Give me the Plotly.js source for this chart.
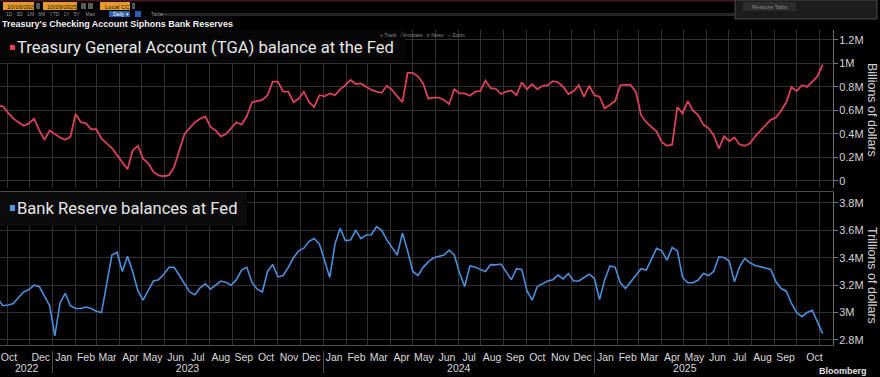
<!DOCTYPE html>
<html><head><meta charset="utf-8">
<script src="https://cdn.plot.ly/plotly-3.0.1.min.js"></script>
<style>html,body{margin:0;padding:0;background:#000;overflow:hidden}#chart{width:880px;height:377px}</style>
</head><body><div id="chart"></div>
<script>
// ---- data (weekly, Wednesday levels) ----
const weekDates = [
'2022-10-19','2022-10-26','2022-11-02','2022-11-09','2022-11-16','2022-11-23','2022-11-30','2022-12-07','2022-12-14','2022-12-21','2022-12-28',
'2023-01-04','2023-01-11','2023-01-18','2023-01-25','2023-02-01','2023-02-08','2023-02-15','2023-02-22','2023-03-01','2023-03-08','2023-03-15','2023-03-22','2023-03-29',
'2023-04-05','2023-04-12','2023-04-19','2023-04-26','2023-05-03','2023-05-10','2023-05-17','2023-05-24','2023-05-31','2023-06-07','2023-06-14','2023-06-21','2023-06-28',
'2023-07-05','2023-07-12','2023-07-19','2023-07-26','2023-08-02','2023-08-09','2023-08-16','2023-08-23','2023-08-30','2023-09-06','2023-09-13','2023-09-20','2023-09-27',
'2023-10-04','2023-10-11','2023-10-18','2023-10-25','2023-11-01','2023-11-08','2023-11-15','2023-11-22','2023-11-29','2023-12-06','2023-12-13','2023-12-20','2023-12-27',
'2024-01-03','2024-01-10','2024-01-17','2024-01-24','2024-01-31','2024-02-07','2024-02-14','2024-02-21','2024-02-28','2024-03-06','2024-03-13','2024-03-20','2024-03-27',
'2024-04-03','2024-04-10','2024-04-17','2024-04-24','2024-05-01','2024-05-08','2024-05-15','2024-05-22','2024-05-29','2024-06-05','2024-06-12','2024-06-19','2024-06-26',
'2024-07-03','2024-07-10','2024-07-17','2024-07-24','2024-07-31','2024-08-07','2024-08-14','2024-08-21','2024-08-28','2024-09-04','2024-09-11','2024-09-18','2024-09-25',
'2024-10-02','2024-10-09','2024-10-16','2024-10-23','2024-10-30','2024-11-06','2024-11-13','2024-11-20','2024-11-27','2024-12-04','2024-12-11','2024-12-18','2024-12-25',
'2025-01-01','2025-01-08','2025-01-15','2025-01-22','2025-01-29','2025-02-05','2025-02-12','2025-02-19','2025-02-26','2025-03-05','2025-03-12','2025-03-19','2025-03-26',
'2025-04-02','2025-04-09','2025-04-16','2025-04-23','2025-04-30','2025-05-07','2025-05-14','2025-05-21','2025-05-28','2025-06-04','2025-06-11','2025-06-18','2025-06-25',
'2025-07-02','2025-07-09','2025-07-16','2025-07-23','2025-07-30','2025-08-06','2025-08-13','2025-08-20','2025-08-27','2025-09-03','2025-09-10','2025-09-17','2025-09-24',
'2025-10-01','2025-10-08','2025-10-15','2025-10-22','2025-10-29','2025-11-05'
];
// Treasury General Account balance (axis shows "M")
const tgaBalance = [
0.64,0.635,0.58,0.53,0.50,0.47,0.49,0.53,0.43,0.35,0.43,
0.40,0.37,0.35,0.375,0.57,0.50,0.49,0.44,0.44,0.36,0.32,0.28,0.22,
0.16,0.10,0.26,0.30,0.19,0.15,0.077,0.048,0.04,0.05,0.12,0.26,0.40,
0.45,0.50,0.53,0.55,0.46,0.43,0.38,0.40,0.45,0.50,0.48,0.55,0.67,
0.68,0.69,0.73,0.845,0.845,0.76,0.76,0.67,0.70,0.76,0.67,0.63,0.73,
0.72,0.745,0.73,0.78,0.815,0.86,0.825,0.83,0.80,0.775,0.76,0.75,0.81,
0.775,0.72,0.67,0.92,0.92,0.89,0.83,0.70,0.71,0.71,0.69,0.655,0.78,
0.745,0.745,0.725,0.76,0.765,0.855,0.79,0.785,0.74,0.76,0.77,0.73,0.84,
0.78,0.825,0.78,0.81,0.815,0.85,0.84,0.80,0.74,0.765,0.815,0.717,0.81,
0.73,0.717,0.617,0.645,0.68,0.815,0.82,0.815,0.76,0.56,0.50,0.46,0.42,
0.33,0.30,0.31,0.63,0.575,0.68,0.60,0.56,0.48,0.45,0.39,0.276,0.38,
0.34,0.37,0.31,0.30,0.32,0.38,0.43,0.475,0.52,0.54,0.60,0.67,0.80,
0.765,0.815,0.80,0.845,0.89,0.99
];
// Bank reserve balances at the Fed
const reserveBalance = [
3.10,3.05,3.055,3.066,3.11,3.15,3.168,3.20,3.19,3.12,3.05,
2.83,3.07,3.14,3.05,3.03,3.03,3.04,3.03,3.01,3.00,3.21,3.42,3.44,
3.30,3.41,3.30,3.16,3.09,3.16,3.23,3.24,3.28,3.33,3.33,3.27,3.21,
3.15,3.13,3.18,3.21,3.17,3.20,3.23,3.22,3.20,3.24,3.31,3.33,3.22,
3.17,3.15,3.30,3.35,3.26,3.27,3.33,3.40,3.45,3.47,3.52,3.54,3.50,
3.38,3.256,3.50,3.615,3.525,3.53,3.60,3.54,3.566,3.568,3.627,3.60,3.53,
3.47,3.42,3.58,3.45,3.30,3.27,3.33,3.37,3.40,3.41,3.42,3.456,3.42,
3.29,3.19,3.34,3.333,3.315,3.30,3.35,3.348,3.354,3.30,3.24,3.32,3.315,
3.16,3.09,3.19,3.21,3.23,3.24,3.273,3.246,3.285,3.23,3.23,3.256,3.28,
3.25,3.095,3.24,3.34,3.33,3.217,3.175,3.224,3.266,3.32,3.31,3.395,3.468,
3.45,3.383,3.475,3.45,3.256,3.217,3.217,3.237,3.285,3.27,3.30,3.407,3.402,
3.376,3.224,3.334,3.395,3.363,3.344,3.334,3.32,3.315,3.224,3.175,3.156,3.066,
3.00,2.97,3.00,3.017,2.932,2.846
];
const seriesNames = ['Treasury General Account (TGA) balance at the Fed','Bank Reserve balances at Fed'];
const axisTitles = ['Billions of dollars','Trillions of dollars'];
const chartTitle = "Treasury's Checking Account Siphons Bank Reserves";

// axis labels
const monthTickDates = ['2022-11-03','2022-12-16',
'2023-01-16','2023-02-15','2023-03-16','2023-04-16','2023-05-16','2023-06-16','2023-07-16','2023-08-16','2023-09-16','2023-10-16','2023-11-16','2023-12-16',
'2024-01-16','2024-02-15','2024-03-16','2024-04-16','2024-05-16','2024-06-16','2024-07-16','2024-08-16','2024-09-16','2024-10-16','2024-11-16','2024-12-16',
'2025-01-16','2025-02-15','2025-03-16','2025-04-16','2025-05-16','2025-06-16','2025-07-16','2025-08-16','2025-09-16','2025-10-25'];
const monthLabels = ['Oct','Dec',
'Jan','Feb','Mar','Apr','May','Jun','Jul','Aug','Sep','Oct','Nov','Dec',
'Jan','Feb','Mar','Apr','May','Jun','Jul','Aug','Sep','Oct','Nov','Dec',
'Jan','Feb','Mar','Apr','May','Jun','Jul','Aug','Sep','Oct'];
const yearTickDates = ['2022-11-27','2023-07-02','2024-07-02','2025-05-03'];
const yearLabels = ['2022','2023','2024','2025'];
const tgaTickVals = [0,0.2,0.4,0.6,0.8,1,1.2];
const tgaTickText = ['0','0.2M','0.4M','0.6M','0.8M','1M','1.2M'];
const resTickVals = [2.8,3,3.2,3.4,3.6,3.8];
const resTickText = ['2.8M','3M','3.2M','3.4M','3.6M','3.8M'];
const xRange = ['2022-10-22','2025-11-19'];

// ---- layout helpers (pixel -> paper) ----
const W = 833, H = 377;
const px = v => v / W, py = v => (H - v) / H;
const gridCol = '#313131';
const narrow = 'Liberation Sans Narrow, Liberation Sans, Arial, sans-serif';
const tickFont = {family: narrow, size: 11, color: '#d2d2d2'};
const dateFont = {family: narrow, size: 10.5, color: '#d8d8d8'};
const RED = '#d9415a', BLUE = '#4a8fdc';

const traces = [
  {x: weekDates, y: tgaBalance, name: seriesNames[0], type: 'scatter', mode: 'lines',
   line: {color: RED, width: 1.8}, xaxis: 'x', yaxis: 'y', hoverinfo: 'skip'},
  {x: weekDates, y: reserveBalance, name: seriesNames[1], type: 'scatter', mode: 'lines',
   line: {color: BLUE, width: 1.6}, xaxis: 'x', yaxis: 'y2', hoverinfo: 'skip'},
  // empty trace so the year axis (x2) gets drawn
  {x: [], y: [], type: 'scatter', mode: 'lines', xaxis: 'x2', yaxis: 'y2', hoverinfo: 'skip', showlegend: false}
];

function rect(x0, y0, x1, y1, fill, lineCol) {
  return {type: 'rect', xref: 'paper', yref: 'paper', x0: px(x0), x1: px(x1), y0: py(y1), y1: py(y0),
    fillcolor: fill, line: {width: lineCol ? 1 : 0, color: lineCol || fill}, layer: 'above'};
}
function note(x, y, text, size, color, opts) {
  return Object.assign({xref: 'paper', yref: 'paper', x: px(x), y: py(y), text: text, showarrow: false,
    xanchor: 'left', yanchor: 'middle', font: {family: 'Liberation Sans, Arial, sans-serif', size: size, color: color}}, opts || {});
}

const shapes = [
  rect(0, 0, 735, 1.5, '#4a1520'),
  rect(160, 13, 735, 16, '#262626'),
  rect(3, 2, 34, 10, '#e39a2f'), rect(36, 3, 40, 9, '#5a5a5a'),
  rect(43, 2, 77, 10, '#e39a2f'), rect(81, 3, 86, 9, '#5a5a5a'), rect(88, 3, 93, 9, '#5a5a5a'),
  rect(100, 2, 130, 10, '#e39a2f'), rect(132, 3, 135, 9, '#5a5a5a'),
  rect(109, 11, 130, 17, '#2b5db0'), rect(135, 11, 141, 17, '#2b5db0'),
  rect(735, 0, 877, 19, '#1c1c1c', '#4a4a4a'), rect(743, 2, 796, 11, '#2c2c2c'),
  // legend boxes
  rect(0, 30, 405, 63, '#060606'),
  rect(0, 192, 247, 226, '#0b0b0b'),
  rect(10, 45, 15, 50, '#ee3a55'),
  rect(10, 205, 15, 211, '#4a9be8')
];

const legendFont = {family: 'Roboto, sans-serif', size: 16.6, color: '#e6e6e6'};
const annotations = [
  note(5, 6.5, '10/16/2022', 6, '#2a1a00'),
  note(45, 6.5, '10/29/2025', 6, '#2a1a00'),
  note(103, 6.5, 'Local CCY', 6, '#2a1a00'),
  note(4, 14, '1D&nbsp;&nbsp;&nbsp;3D&nbsp;&nbsp;&nbsp;1M&nbsp;&nbsp;&nbsp;6M&nbsp;&nbsp;&nbsp;YTD&nbsp;&nbsp;&nbsp;1Y&nbsp;&nbsp;&nbsp;5Y&nbsp;&nbsp;&nbsp;&nbsp;Max', 5, '#9a9a9a'),
  note(111, 14, 'Daily ▾', 5, '#ffffff'),
  note(149, 14, 'Table', 5, '#9a9a9a'),
  note(769.5, 6.5, 'Restore Tabs', 6, '#8a8a8a', {xanchor: 'center'}),
  note(0, 24, '<b>' + chartTitle + '</b>', 9, '#f2f2f2'),
  note(378, 35, '+ Track&nbsp;&nbsp;&nbsp;⁄ Annotate&nbsp;&nbsp;&nbsp;≡ News&nbsp;&nbsp;&nbsp;⌕ Zoom', 5, '#8a8a8a'),
  note(15, 48, seriesNames[0], 16.6, '#e6e6e6', {font: legendFont}),
  note(15, 209, seriesNames[1], 16.6, '#e6e6e6', {font: legendFont}),
  note(872, 110, axisTitles[0], 12.5, '#cfcfcf', {xanchor: 'center', textangle: 90}),
  note(872, 275, axisTitles[1], 12.5, '#cfcfcf', {xanchor: 'center', textangle: 90}),
  note(843, 371, '<b>Bloomberg</b>', 9, '#e0e0e0', {xanchor: 'center'})
];

const layout = {
  width: 880, height: 377,
  margin: {l: 0, r: 47, t: 0, b: 0, pad: 0},
  paper_bgcolor: '#000', plot_bgcolor: '#000',
  showlegend: false,
  xaxis: {type: 'date', range: xRange, anchor: 'y2', tickmode: 'array', tickvals: monthTickDates, ticktext: monthLabels,
    ticks: '', showgrid: false, zeroline: false, tickfont: dateFont, ticklabelstandoff: 2,
    showline: true, mirror: true, linecolor: '#4a4a4a', linewidth: 1,
    minor: {tickmode: 'linear', tick0: '2022-11-01', dtick: 'M1', showgrid: true, gridcolor: gridCol, gridwidth: 1, ticks: ''}},
  xaxis2: {type: 'date', range: xRange, overlaying: 'x', anchor: 'free', position: py(350), side: 'bottom',
    tickmode: 'array', tickvals: yearTickDates, ticktext: yearLabels, ticks: '', showgrid: false, showline: false,
    zeroline: false, tickfont: dateFont, ticklabelstandoff: 10,
    minor: {tickmode: 'linear', tick0: '2023-01-01', dtick: 'M12', ticks: 'outside', ticklen: 22, tickcolor: '#4a4a4a', tickwidth: 1, showgrid: false}},
  yaxis: {domain: [py(188), py(30)], range: [-0.06, 1.285], side: 'right', anchor: 'x',
    tickmode: 'array', tickvals: tgaTickVals, ticktext: tgaTickText, ticks: 'outside', ticklen: 4, tickcolor: '#7a7a7a',
    showline: true, linecolor: '#6a6a6a', gridcolor: gridCol, zeroline: false, tickfont: tickFont, ticklabelstandoff: -1},
  yaxis2: {domain: [py(345), py(192)], range: [2.763, 3.88], side: 'right', anchor: 'x',
    tickmode: 'array', tickvals: resTickVals, ticktext: resTickText, ticks: 'outside', ticklen: 4, tickcolor: '#7a7a7a',
    showline: true, linecolor: '#6a6a6a', gridcolor: gridCol, zeroline: false, tickfont: tickFont, ticklabelstandoff: -1},
  shapes: shapes,
  annotations: annotations
};

Plotly.newPlot('chart', traces, layout, {displayModeBar: false, staticPlot: true});
</script>
</body></html>
